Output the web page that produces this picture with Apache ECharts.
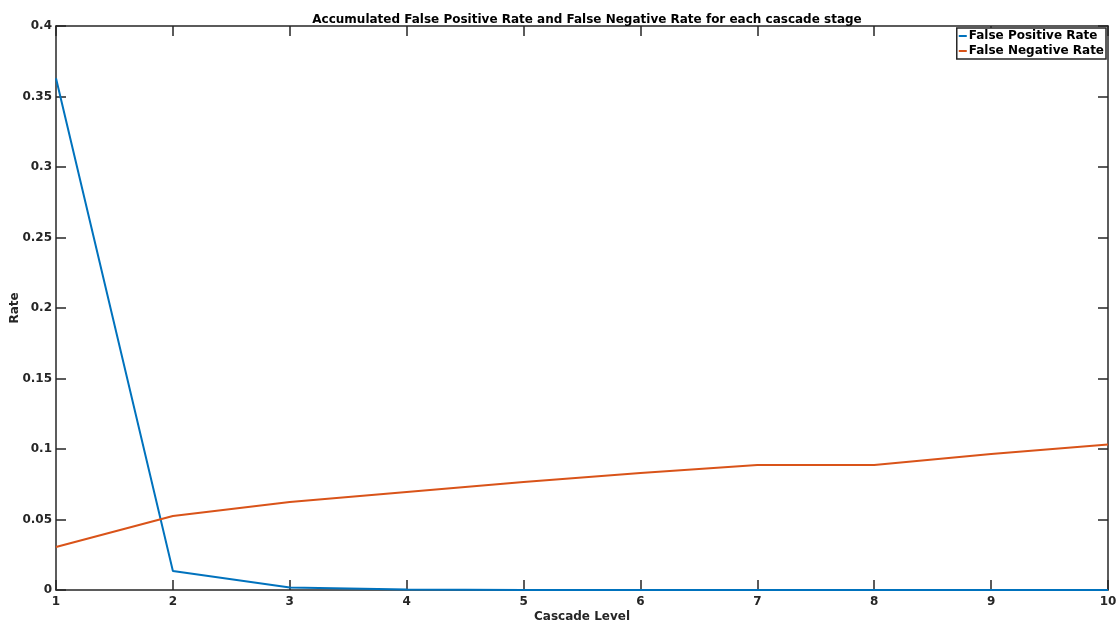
<!DOCTYPE html>
<html><head><meta charset="utf-8">
<script src="https://cdn.jsdelivr.net/npm/echarts@6/dist/echarts.min.js"></script>
<style>html,body{margin:0;padding:0;background:#fff}#c{width:1120px;height:620px}</style>
</head><body><div id="c"></div>
<script>
const levels = [1,2,3,4,5,6,7,8,9,10];
const falsePositive = [0.363, 0.0135, 0.0018, 0.0003, 0, 0, 0, 0, 0, 0];
const falseNegative = [0.0305, 0.0525, 0.0624, 0.0695, 0.0766, 0.083, 0.0887, 0.0887, 0.0965, 0.1032];
const seriesNames = ['False Positive Rate', 'False Negative Rate'];

const axisCol = '#262626';
const font = 'DejaVu Sans';
const chart = echarts.init(document.getElementById('c'));
const baseX = {type:'value', min:1, max:10, interval:1, gridIndex:0,
  axisLine:{show:true, onZero:false, lineStyle:{color:axisCol, width:1.5}},
  axisTick:{show:true, inside:true, length:10, lineStyle:{color:axisCol, width:1.5}},
  splitLine:{show:false}};
const baseY = {type:'value', min:0, max:0.4, interval:0.05, gridIndex:0,
  axisLine:{show:true, onZero:false, lineStyle:{color:axisCol, width:1.5}},
  axisTick:{show:true, inside:true, length:10, lineStyle:{color:axisCol, width:1.5}},
  splitLine:{show:false}};
chart.setOption({
  animation:false,
  backgroundColor:'#fff',
  title:{text:'Accumulated False Positive Rate and False Negative Rate for each cascade stage',
    left:582, textAlign:'center', top:9,
    textStyle:{fontFamily:font, fontSize:12, fontWeight:'bold', color:'#000'}},
  legend:{data:seriesNames, orient:'vertical', right:14, top:28, itemGap:3,
    padding:[2,2,2,2], itemWidth:8, itemHeight:2, icon:'rect',
    backgroundColor:'#fff', borderColor:axisCol, borderWidth:1.5, borderRadius:0,
    textStyle:{fontFamily:font, fontSize:12, fontWeight:'bold', color:'#000', padding:[0,0,0,-3]}},
  grid:{left:56, right:12, top:26, bottom:30, containLabel:false, outerBoundsMode:'none'},
  xAxis:[
    Object.assign({}, baseX, {position:'bottom', name:'Cascade Level', nameLocation:'middle', nameGap:21,
      nameMoveOverlap:false,
      nameTextStyle:{fontFamily:font, fontSize:12, fontWeight:'bold', color:'#262626'},
      axisLabel:{fontFamily:font, fontSize:12, fontWeight:'bold', color:'#262626', margin:6}}),
    Object.assign({}, baseX, {position:'top', axisLabel:{show:false}})
  ],
  yAxis:[
    Object.assign({}, baseY, {position:'left', name:'Rate', nameLocation:'middle', nameGap:35,
      nameMoveOverlap:false,
      nameTextStyle:{fontFamily:font, fontSize:12, fontWeight:'bold', color:'#262626'},
      axisLabel:{fontFamily:font, fontSize:12, fontWeight:'bold', color:'#262626', margin:4}}),
    Object.assign({}, baseY, {position:'right', axisLabel:{show:false}})
  ],
  series:[
    {name:seriesNames[0], type:'line', xAxisIndex:0, yAxisIndex:0, showSymbol:false,
      data:levels.map((l,i)=>[l, falsePositive[i]]), lineStyle:{color:'#0072BD', width:2}, itemStyle:{color:'#0072BD'}},
    {name:seriesNames[1], type:'line', xAxisIndex:0, yAxisIndex:0, showSymbol:false,
      data:levels.map((l,i)=>[l, falseNegative[i]]), lineStyle:{color:'#D95319', width:2}, itemStyle:{color:'#D95319'}}
  ]
});
</script></body></html>
